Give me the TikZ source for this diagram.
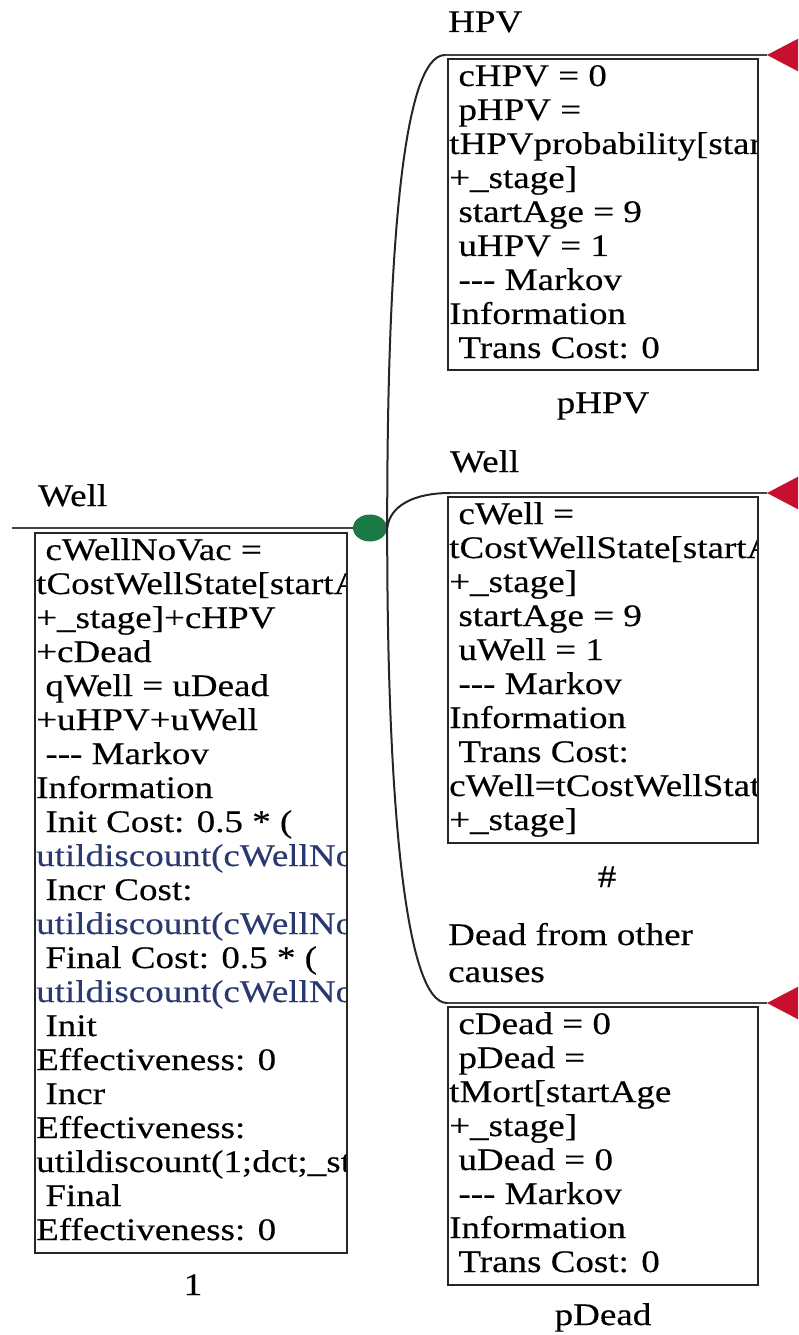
\documentclass[tikz,border=0pt]{standalone}
\usepackage{fontspec}
\setmainfont{Liberation Serif}[FakeStretch=1.18, FakeBold=0.3]
\usetikzlibrary{shapes.geometric}
\definecolor{chancegreen}{HTML}{1B7A43}
\definecolor{termred}{HTML}{C8102E}
\definecolor{navytext}{HTML}{2A3A70}
\definecolor{linegray}{HTML}{444444}
\newcommand\treefont{\fontsize{31.5}{34}\selectfont}
\tikzset{
  boxtext/.style={anchor=base west, inner sep=0pt, font=\treefont},
  lbl/.style={anchor=base west, inner sep=0pt, font=\treefont},
  clbl/.style={anchor=base, inner sep=0pt, font=\treefont},
  infobox/.style={draw=black!85, line width=2bp},
  branch/.style={draw=linegray, line width=2.6bp},
  curveline/.style={draw=black!85, line width=2bp},
  chance/.style={ellipse, fill=chancegreen, minimum width=34bp, minimum height=27bp, inner sep=0pt},
  termtip/.style={fill=termred}
}
\begin{document}
\begin{tikzpicture}[x=1bp,y=-1bp]
\useasboundingbox (0,0) rectangle (798,1335);
\clip (0,0) rectangle (798,1335);

% ---------- root ----------
\coordinate (rootin) at (12,528);
\node[chance] (ch) at (370,528) {};
\draw[branch] (rootin) -- (ch.west);
\node[lbl] (lwell) at (38,506) {Well};

% left info box
\coordinate (lb1) at (35,533); \coordinate (lb2) at (347,1253);
\begin{scope}
\clip (lb1) rectangle (lb2);
\foreach \t [count=\i from 0] in {
 {\ cWellNoVac =},{tCostWellState[startA},{+\_stage]+cHPV},{+cDead},
 {\ qWell = uDead},{+uHPV+uWell},{\ -{}-{}- Markov},{Information},
 {\ Init Cost: 0.5 * (},{\textcolor{navytext}{utildiscount(cWellNoVac}},
 {\ Incr Cost:},{\textcolor{navytext}{utildiscount(cWellNoVac}},
 {\ Final Cost: 0.5 * (},{\textcolor{navytext}{utildiscount(cWellNoVac}},
 {\ Init},{Effectiveness: 0},{\ Incr},{Effectiveness:},
 {utildiscount(1;dct;\_st},{\ Final},{Effectiveness: 0}}
 \node[boxtext] (lt\i) at (36,{560+34*\i}) {\t};
\end{scope}
\draw[infobox] (lb1) rectangle (lb2);
\node[clbl] (lone) at (193,1295) {1};

% ---------- HPV branch ----------
\coordinate (b1) at (445,55);
\coordinate (t1) at (767,55);
\draw[curveline] (ch.east) .. controls (387,250) and (403,55) .. (b1);
\draw[branch] (b1) -- (t1);
\fill[termtip] (t1) -- ++(40,-21) -- ++(0,42) -- cycle;
\node[lbl] (lhpv) at (448,32) {HPV};
\coordinate (hb1) at (448,59); \coordinate (hb2) at (758,370);
\begin{scope}
\clip (hb1) rectangle (hb2);
\foreach \t [count=\i from 0] in {
 {\ cHPV = 0},{\ pHPV =},{tHPVprobability[startA},{+\_stage]},
 {\ startAge = 9},{\ uHPV = 1},{\ -{}-{}- Markov},{Information},{\ Trans Cost: 0}}
 \node[boxtext] (ht\i) at (449,{86+34*\i}) {\t};
\end{scope}
\draw[infobox] (hb1) rectangle (hb2);
\node[clbl] (phpv) at (603,413) {pHPV};

% ---------- Well branch ----------
\coordinate (b2) at (450,493);
\coordinate (t2) at (767,493);
\draw[curveline] (ch.east) .. controls (390,505) and (415,493) .. (b2);
\draw[branch] (b2) -- (t2);
\fill[termtip] (t2) -- ++(40,-21) -- ++(0,42) -- cycle;
\node[lbl] (lwell2) at (450,472) {Well};
\coordinate (wb1) at (448,497); \coordinate (wb2) at (758,843);
\begin{scope}
\clip (wb1) rectangle (wb2);
\foreach \t [count=\i from 0] in {
 {\ cWell =},{tCostWellState[startA},{+\_stage]},{\ startAge = 9},
 {\ uWell = 1},{\ -{}-{}- Markov},{Information},{\ Trans Cost:},
 {cWell=tCostWellState},{+\_stage]}}
 \node[boxtext] (wt\i) at (449,{524+34*\i}) {\t};
\end{scope}
\draw[infobox] (wb1) rectangle (wb2);
\node[clbl] (hash) at (607,887) {\#};

% ---------- Dead branch ----------
\coordinate (b3) at (447,1003);
\coordinate (t3) at (767,1003);
\draw[curveline] (ch.east) .. controls (387,800) and (405,1003) .. (b3);
\draw[branch] (b3) -- (t3);
\fill[termtip] (t3) -- ++(40,-21) -- ++(0,42) -- cycle;
\node[lbl] (ldead1) at (448,945) {Dead from other};
\node[lbl] (ldead2) at (448,982) {causes};
\coordinate (db1) at (448,1007); \coordinate (db2) at (758,1285);
\begin{scope}
\clip (db1) rectangle (db2);
\foreach \t [count=\i from 0] in {
 {\ cDead = 0},{\ pDead =},{tMort[startAge},{+\_stage]},
 {\ uDead = 0},{\ -{}-{}- Markov},{Information},{\ Trans Cost: 0}}
 \node[boxtext] (dt\i) at (449,{1034+34*\i}) {\t};
\end{scope}
\draw[infobox] (db1) rectangle (db2);
\node[clbl] (pdead) at (603,1325) {pDead};
\end{tikzpicture}
\end{document}
